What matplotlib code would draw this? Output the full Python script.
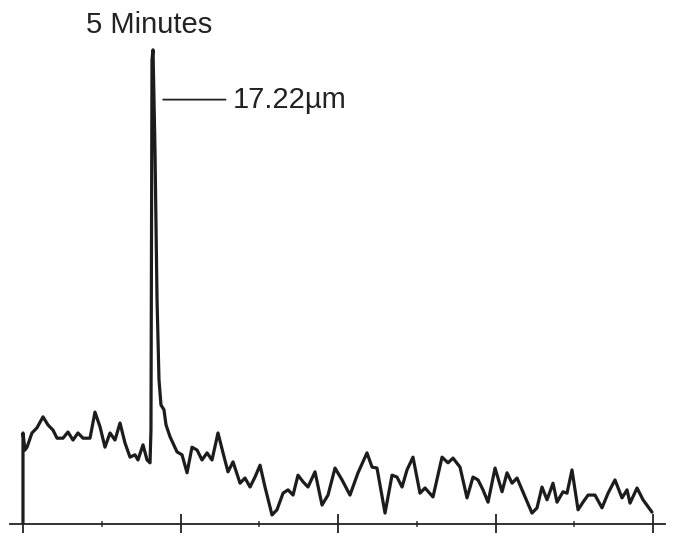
import numpy as np
import matplotlib.pyplot as plt

# scan position (tick units) and relative intensity
pos = [0, 0, 0.025, 0.051, 0.114, 0.178, 0.254, 0.317, 0.381, 0.432, 0.508, 0.571,
       0.635, 0.698, 0.762, 0.851, 0.914, 0.978, 1.041, 1.105, 1.168, 1.232, 1.295,
       1.359, 1.422, 1.460, 1.524, 1.575, 1.613, 1.625, 1.638, 1.651, 1.676, 1.702,
       1.727, 1.752, 1.790, 1.816, 1.867, 1.956, 2.019, 2.083, 2.146, 2.210, 2.273,
       2.337, 2.400, 2.476, 2.540, 2.603, 2.667, 2.756, 2.819, 2.883, 2.946, 3.010,
       3.073, 3.162, 3.225, 3.302, 3.365, 3.429, 3.492, 3.556, 3.619, 3.708, 3.797,
       3.873, 3.962, 4.051, 4.152, 4.254, 4.368, 4.432, 4.495, 4.597, 4.686, 4.749,
       4.813, 4.876, 4.952, 5.041, 5.105, 5.206, 5.321, 5.397, 5.460, 5.549, 5.638,
       5.714, 5.778, 5.841, 5.905, 5.994, 6.083, 6.146, 6.210, 6.273, 6.337, 6.463,
       6.527, 6.590, 6.654, 6.730, 6.781, 6.857, 6.908, 6.971, 7.048, 7.111, 7.175,
       7.263, 7.352, 7.429, 7.517, 7.606, 7.670, 7.708, 7.797, 7.873, 7.987]
intensity = [0, 19.2, 15.6, 16.2, 19.2, 20.3, 22.6, 20.9, 19.8, 18.1, 18.1, 19.4,
             17.7, 19.2, 18.1, 18.1, 23.6, 20.5, 16.2, 19.2, 17.7, 21.3, 17.1,
             14.1, 14.6, 13.5, 16.7, 13.5, 12.9, 19.8, 97.9, 100.0, 78.9, 47.3,
             30.4, 25.1, 24.1, 20.9, 18.4, 15.2, 14.6, 10.8, 16.2, 15.6, 13.5,
             15.0, 13.5, 19.2, 15.0, 11.0, 13.1, 8.6, 9.7, 7.8, 9.9, 12.4,
             7.8, 1.9, 3.0, 6.5, 7.2, 6.1, 10.3, 8.9, 7.8, 11.0, 4.0,
             6.1, 11.8, 9.3, 6.1, 10.8, 15.0, 12.0, 11.8, 2.3, 10.3, 9.9,
             7.8, 11.4, 14.1, 6.5, 7.6, 5.7, 14.1, 12.9, 13.9, 12.0, 5.5,
             9.9, 9.3, 7.2, 4.6, 11.8, 6.8, 10.8, 8.6, 9.7, 7.2, 2.3,
             3.4, 7.8, 5.1, 8.6, 4.6, 6.8, 6.5, 11.4, 3.0, 4.6, 6.1,
             6.1, 3.4, 6.5, 9.3, 5.5, 7.2, 4.4, 7.6, 5.1, 2.5]
major_ticks = [0, 2, 4, 6, 8]
minor_ticks = [1, 3, 5, 7]
title = "5 Minutes"
peak_label = "17.22\u00b5m"

plt.rcParams['font.family'] = ['Liberation Sans', 'DejaVu Sans']

fig = plt.figure(figsize=(6.75, 5.33), dpi=100)
ax = fig.add_axes([10 / 675, 9 / 533, 655 / 675, 514 / 533])

ax.plot(pos, intensity, color='#1c1c1c', lw=2.3, solid_joinstyle='round',
        solid_capstyle='round')

ax.set_xlim(-0.165, 8.152)
ax.set_ylim(0, 108.4)

for s in ['left', 'right', 'top']:
    ax.spines[s].set_visible(False)
ax.spines['bottom'].set_linewidth(1.3)
ax.spines['bottom'].set_color('#222222')

ax.set_xticks(major_ticks)
ax.set_xticks(minor_ticks, minor=True)
ax.tick_params(axis='x', which='major', direction='inout', length=14, width=1.3,
               color='#222222', labelbottom=False)
ax.tick_params(axis='x', which='minor', direction='inout', length=5, width=1.2,
               color='#444444')
ax.set_yticks([])

ax.text(1.60, 105.3, title, ha='center', va='center', fontsize=21, color='#222222')
ax.annotate(peak_label, xy=(1.78, 89.5), xytext=(2.66, 89.5), ha='left', va='center',
            fontsize=21, color='#222222',
            arrowprops=dict(arrowstyle='-', lw=1.3, color='#222222',
                            shrinkA=3, shrinkB=0))

fig.savefig('out.png', dpi=100)
